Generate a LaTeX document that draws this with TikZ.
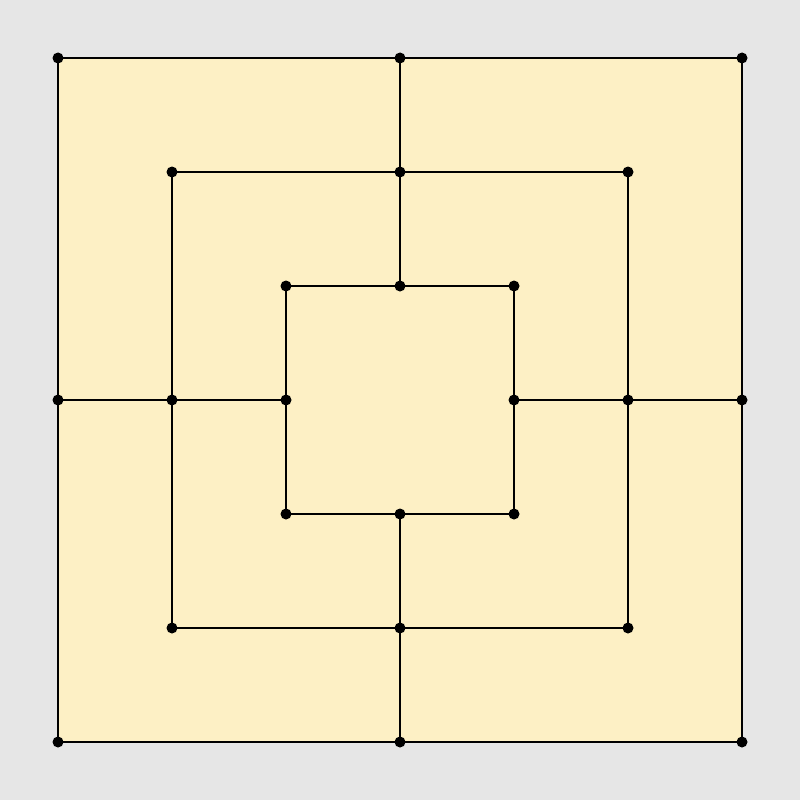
\documentclass[tikz,border=0pt]{standalone}
\definecolor{bg}{HTML}{E6E6E6}
\definecolor{board}{HTML}{FDF0C5}
\tikzset{pt/.style={circle,fill=black,inner sep=0pt,minimum size=11pt},
  ln/.style={line width=2.8pt,black,line cap=round,line join=miter}}
\begin{document}
\begin{tikzpicture}[x=1pt,y=-1pt]
\fill[bg] (0,0) rectangle (800,800);
\useasboundingbox (0,0) rectangle (800,800);
\fill[board] (58,58) rectangle (742,742);
\foreach \n/\d in {o/342,m/228,i/114}{
  \coordinate (\n tl) at (400-\d,400-\d);
  \coordinate (\n tm) at (400,400-\d);
  \coordinate (\n tr) at (400+\d,400-\d);
  \coordinate (\n mr) at (400+\d,400);
  \coordinate (\n br) at (400+\d,400+\d);
  \coordinate (\n bm) at (400,400+\d);
  \coordinate (\n bl) at (400-\d,400+\d);
  \coordinate (\n ml) at (400-\d,400);
}
\foreach \n in {o,m,i}{
  \draw[ln] (\n tl) -- (\n tm) -- (\n tr) -- (\n mr) -- (\n br) -- (\n bm) -- (\n bl) -- (\n ml) -- cycle;
}
\draw[ln] (otm) -- (mtm) -- (itm);
\draw[ln] (obm) -- (mbm) -- (ibm);
\draw[ln] (oml) -- (mml) -- (iml);
\draw[ln] (omr) -- (mmr) -- (imr);
\foreach \n in {o,m,i}{
  \foreach \p in {tl,tm,tr,mr,br,bm,bl,ml}{
    \node[pt] (d\n\p) at (\n\p) {};
  }
}
\end{tikzpicture}
\end{document}
